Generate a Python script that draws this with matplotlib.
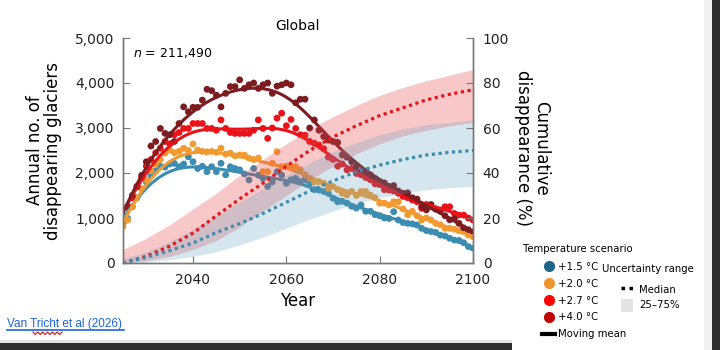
import numpy as np
import matplotlib.pyplot as plt
from matplotlib.lines import Line2D
from matplotlib.patches import Patch, Rectangle
from matplotlib.ticker import StrMethodFormatter

plt.rcParams["font.family"] = ["DejaVu Sans"]

# Annual number of disappearing glaciers, one value per year 2025-2100
years = np.arange(2025, 2101)

deg15 = [880, 990, 1250, 1450, 1650, 1800, 1950, 2050, 2150, 2130,
         2200, 2215, 2140, 2200, 2360, 2250, 2100, 2150, 2030, 2140,
         2030, 2215, 1960, 2140, 2100, 2070, 1980, 1845, 2100, 1950,
         1880, 1700, 1800, 2030, 1955, 1770, 1850, 1880, 1810, 1845,
         1770, 1630, 1620, 1590, 1550, 1440, 1360, 1370, 1330, 1260,
         1220, 1290, 1150, 1150, 1075, 1050, 1000, 990, 1140, 955,
         900, 880, 870, 845, 770, 720, 700, 680, 620, 600,
         550, 510, 500, 450, 365, 330]
deg20 = [810, 955, 1250, 1450, 1650, 1850, 2050, 2200, 2300, 2440,
         2510, 2450, 2480, 2550, 2500, 2645, 2510, 2480, 2470, 2480,
         2460, 2550, 2420, 2440, 2380, 2400, 2400, 2330, 2300, 2330,
         2030, 2030, 2215, 2475, 2140, 2150, 2140, 2140, 2070, 1960,
         1880, 1800, 1810, 1770, 1660, 1700, 1630, 1550, 1515, 1590,
         1500, 1590, 1590, 1510, 1450, 1330, 1330, 1290, 1360, 1360,
         1200, 1070, 1150, 1050, 955, 1000, 955, 880, 850, 770,
         770, 750, 720, 700, 620, 585]
deg27 = [1000, 1250, 1450, 1700, 1900, 2150, 2300, 2450, 2550, 2700,
         2650, 2850, 2900, 2990, 2990, 3100, 3100, 3100, 2990, 2990,
         2950, 3180, 2990, 2900, 2880, 2880, 2880, 2880, 2950, 3180,
         2990, 2770, 3000, 3220, 3330, 3050, 3190, 2990, 2850, 2840,
         2700, 2660, 2620, 2540, 2350, 2300, 2150, 2200, 2070, 2100,
         1990, 1960, 1900, 1850, 1760, 1740, 1630, 1620, 1600, 1550,
         1480, 1450, 1400, 1360, 1215, 1300, 1250, 1200, 1180, 1250,
         1250, 1100, 1065, 1065, 1000, 955]
deg40 = [1050, 1250, 1500, 1700, 1950, 2250, 2600, 2700, 2990, 2880,
         2850, 2700, 3100, 3470, 3360, 3460, 3460, 3620, 3860, 3830,
         3730, 3470, 3770, 3920, 3920, 4070, 3880, 3960, 4000, 3880,
         3960, 4000, 3770, 3930, 3960, 4000, 3960, 3560, 3640, 3640,
         3000, 3180, 2950, 2810, 2730, 2700, 2680, 2400, 2350, 2250,
         2140, 2030, 2000, 1960, 1880, 1800, 1780, 1700, 1720, 1600,
         1550, 1560, 1450, 1420, 1250, 1180, 1300, 1200, 1150, 1050,
         960, 980, 880, 780, 740, 690]

# Cumulative disappearance (%), every 5 years
cum_years = np.arange(2025, 2101, 5)
med15 = [0, 2.5, 5.5, 8.9, 13.5, 17.5, 22, 27, 32, 36.5, 40.5, 43.5, 46, 48, 49.2, 50]
lo15 = [0, 0.5, 1.5, 3, 5, 8, 11.5, 15.5, 19.5, 23, 26.5, 29, 31, 32.5, 33.5, 34]
hi15 = [2, 5, 9.5, 15, 21, 27, 33, 39, 44.5, 49.5, 53.5, 57, 59.5, 61.5, 62.5, 63.5]
med27 = [0, 3, 7.5, 13.3, 21, 28.5, 35.5, 43, 50, 56, 61, 65.5, 69, 72.5, 75, 77]
lo27 = [0, 1, 3, 6, 10, 16, 23, 30, 37, 43, 48.5, 53, 56.5, 59, 61, 62.5]
hi27 = [6, 11, 17, 24, 31, 39, 46, 53, 59.5, 65, 70, 74.5, 78, 81, 83.5, 86]

scenarios = ["+1.5 °C", "+2.0 °C", "+2.7 °C", "+4.0 °C"]
dot_colors = ["#3a8cb0", "#f29a30", "#ea1218", "#7c1c20"]
key_colors = ["#1b6585", "#f0962e", "#ff0000", "#c00000"]


def moving_mean(x, y, bw=5.0):
    # local linear gaussian smoother
    x = np.asarray(x, float)
    y = np.asarray(y, float)
    out = []
    for x0 in x:
        w = np.exp(-0.5 * ((x - x0) / bw) ** 2)
        A = np.vstack([np.ones_like(x), x - x0]).T
        AtW = A.T * w
        beta = np.linalg.solve(AtW @ A, AtW @ y)
        out.append(beta[0])
    return np.array(out)


fig = plt.figure(figsize=(7.2, 3.5), dpi=100)
ax = fig.add_axes([123 / 720, 87 / 350, 350 / 720, 225 / 350])
ax2 = ax.twinx()

for vals, c in zip([deg15, deg20, deg27, deg40], dot_colors):
    ax.scatter(years, vals, s=24, color=c, edgecolors="none", zorder=2)
    ax.plot(years, moving_mean(years, vals), color=c, lw=2.2, zorder=3,
            solid_capstyle="butt")

ax.set_xlim(2025, 2100)
ax.set_ylim(0, 5000)
ax.set_xticks([2040, 2060, 2080, 2100])
ax.set_yticks(range(0, 5001, 1000))
ax.yaxis.set_major_formatter(StrMethodFormatter("{x:,.0f}"))

ax2.fill_between(cum_years, lo27, hi27, color="#e84a4a", alpha=0.3, lw=0, zorder=1)
ax2.fill_between(cum_years, lo15, hi15, color="#5f9fbf", alpha=0.25, lw=0, zorder=1)
ax2.plot(cum_years, med27, color="#e8141a", lw=2.3, ls=(0, (1, 1.1)),
         dash_capstyle="butt", zorder=2)
ax2.plot(cum_years, med15, color="#3a8cb0", lw=2.3, ls=(0, (1, 1.1)),
         dash_capstyle="butt", zorder=2)
ax2.set_ylim(0, 100)
ax2.set_yticks(range(0, 101, 20))

for a in (ax, ax2):
    a.spines["top"].set_visible(False)
    for s in a.spines.values():
        s.set_color("#777777")
        s.set_linewidth(1)
    a.tick_params(direction="in", length=5, color="#777777", labelsize=10,
                  labelcolor="#222222", pad=6)
ax.tick_params(axis="x", pad=7)
ax2.tick_params(axis="y", pad=7)

ax.set_title("Global", fontsize=10, pad=6)
ax.text(0.029, 0.935, "$n$ = 211,490", transform=ax.transAxes, fontsize=9,
        va="center", ha="left")
ax.set_xlabel("Year", fontsize=12)
ax.xaxis.set_label_coords(0.5, -0.13)
ax.set_ylabel("Annual no. of\ndisappearing glaciers", fontsize=12, linespacing=1.0)
ax.yaxis.set_label_coords(-0.174, 0.5)
ax2.set_ylabel("Cumulative\ndisappearance (%)", fontsize=12, rotation=270,
               linespacing=1.0, va="center")
ax2.yaxis.set_label_coords(1.17, 0.51)

# legends
handles1 = [Line2D([], [], ls="none", marker="o", ms=7, color=c) for c in key_colors]
handles1.append(Line2D([], [], color="black", lw=3))
fig.legend(handles1, scenarios + ["Moving mean"], loc="upper left",
           bbox_to_anchor=(542 / 720, 1 - 262 / 350), frameon=False,
           fontsize=7.3, handlelength=1.3, handletextpad=0.3,
           labelspacing=0.67, borderpad=0, borderaxespad=0)
fig.text(523 / 720, 1 - 249 / 350, "Temperature scenario", fontsize=7.3,
         va="center", ha="left")
fig.text(602 / 720, 1 - 269 / 350, "Uncertainty range", fontsize=7.3,
         va="center", ha="left")
handles2 = [Line2D([], [], color="black", lw=2.5, ls=(0, (1, 1.3)),
                   dash_capstyle="butt"),
            Patch(facecolor="#e3e3e3", edgecolor="none")]
fig.legend(handles2, ["Median", "25–75%"], loc="upper left",
           bbox_to_anchor=(621 / 720, 1 - 283 / 350), frameon=False,
           fontsize=7.3, handlelength=1.2, handleheight=1.6, handletextpad=0.6,
           labelspacing=0.25, borderpad=0, borderaxespad=0)

# page decorations around the figure
fig.text(7 / 720, 1 - 324 / 350, "Van Tricht et al (2026)", fontsize=8.5,
         family="Liberation Sans", color="#1a64e0", va="center", ha="left")
fig.add_artist(Line2D([7 / 720, 124 / 720], [1 - 330 / 350] * 2, color="#1a64e0", lw=1.2))
zx = np.linspace(33, 62, 13)
zy = np.where(np.arange(13) % 2 == 0, 332, 334.5)
fig.add_artist(Line2D(zx / 720, 1 - zy / 350, color="#e02020", lw=0.9))
fig.add_artist(Rectangle((0, 0), 512 / 720, 7 / 350, color="#2d2d2d", lw=0))
fig.add_artist(Rectangle((0, 7 / 350), 512 / 720, 3 / 350, color="#e2e2e2", lw=0))
fig.add_artist(Rectangle((704 / 720, 0), 8 / 720, 1, color="#f1f1f1", lw=0))
fig.add_artist(Rectangle((712 / 720, 0), 8 / 720, 1, color="#2d2d2d", lw=0))

fig.savefig("out.png", dpi=100)
